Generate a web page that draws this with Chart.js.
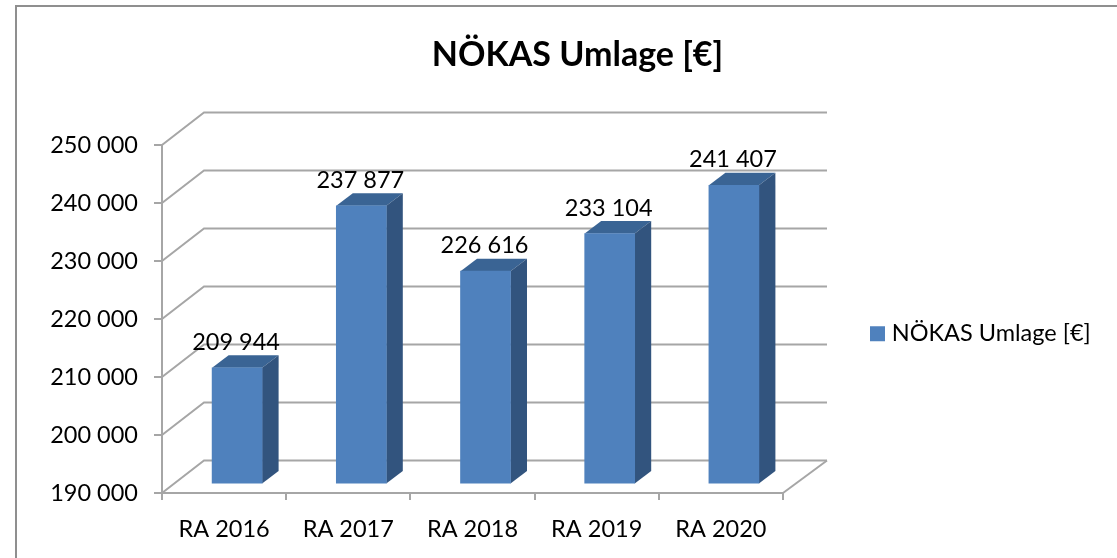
<!DOCTYPE html>
<html>
<head>
<meta charset="utf-8">
<title>NÖKAS Umlage</title>
<script src="https://cdn.jsdelivr.net/npm/chart.js@4/dist/chart.umd.js"></script>
<style>
    html, body { margin: 0; padding: 0; background: #fff; overflow: hidden; }
    #frame { position: absolute; left: 15px; top: 5px; right: 0; bottom: 0; border-left: 2px solid #8f8f8f; border-top: 2px solid #8f8f8f; }
    canvas { position: absolute; left: 0; top: 0; }
</style>
</head>
<body>
<div id="frame"></div>
<canvas id="chart" width="1117" height="558"></canvas>
<script>
const seriesName = 'NÖKAS Umlage [€]';
const categories = ['RA 2016', 'RA 2017', 'RA 2018', 'RA 2019', 'RA 2020'];
const umlage = [209944, 237877, 226616, 233104, 241407];

const fontName = 'Lato, sans-serif';
const gridColor = '#a6a6a6';

// Fake 3D: back wall offset, bar shift into the floor, bar depth
const wallDx = 42, wallRightDx = 44, wallDy = -32.5;
const barDx = 13, barDy = -9.5;
const depthDx = 16.5, depthDy = -12.5;

function formatNumber(v) {
    return String(v).replace(/\B(?=(\d{3})+$)/g, ' ');
}

const fake3d = {
    id: 'fake3d',
    afterLayout(chart) {
        // Legend and title sit where the layout boxes would not put them
        chart.titleBlock.left = 38;
        chart.titleBlock.right = 1117;
        chart.legend.left = 865;
        chart.legend.right = 1117;
        chart.legend.top = 312;
        chart.legend.bottom = 558;
    },
    beforeDatasetsDraw(chart) {
        const ctx = chart.ctx;
        const area = chart.chartArea;
        const y = chart.scales.y;

        // Side wall and back wall grid lines
        ctx.save();
        ctx.strokeStyle = gridColor;
        ctx.lineWidth = 2;
        y.ticks.forEach(t => {
            const py = y.getPixelForValue(t.value);
            ctx.beginPath();
            ctx.moveTo(area.left, py);
            ctx.lineTo(area.left + wallDx, py + wallDy);
            ctx.lineTo(area.right + wallRightDx, py + wallDy);
            ctx.stroke();
        });
        // Right edge of the floor
        ctx.beginPath();
        ctx.moveTo(area.right, area.bottom);
        ctx.lineTo(area.right + wallRightDx, area.bottom + wallDy);
        ctx.stroke();
        ctx.restore();

        // Shift everything the bars draw, restored in afterDatasetsDraw
        ctx.save();
        ctx.translate(barDx, barDy);
        chart.getDatasetMeta(0).data.forEach(bar => {
            const l = bar.x - bar.width / 2;
            const r = bar.x + bar.width / 2;
            ctx.fillStyle = '#3a6494';
            ctx.beginPath();
            ctx.moveTo(l, bar.y);
            ctx.lineTo(l + depthDx, bar.y + depthDy);
            ctx.lineTo(r + depthDx, bar.y + depthDy);
            ctx.lineTo(r, bar.y);
            ctx.closePath();
            ctx.fill();
            ctx.fillStyle = '#32547e';
            ctx.beginPath();
            ctx.moveTo(r, bar.y);
            ctx.lineTo(r + depthDx, bar.y + depthDy);
            ctx.lineTo(r + depthDx, area.bottom + depthDy);
            ctx.lineTo(r, area.bottom);
            ctx.closePath();
            ctx.fill();
        });
    },
    afterDatasetsDraw(chart) {
        const ctx = chart.ctx;
        ctx.restore();

        // Value labels
        ctx.save();
        ctx.font = '23.5px ' + fontName;
        ctx.fillStyle = '#000';
        ctx.textAlign = 'center';
        ctx.textBaseline = 'middle';
        chart.getDatasetMeta(0).data.forEach((bar, i) => {
            ctx.fillText(formatNumber(umlage[i]), bar.x + barDx - 1, bar.y + barDy - 25.5);
        });
        ctx.restore();
    }
};

new Chart(document.getElementById('chart'), {
    type: 'bar',
    data: {
        labels: categories,
        datasets: [{
            label: seriesName,
            data: umlage,
            backgroundColor: '#4f81bd',
            borderWidth: 0,
            barThickness: 50
        }]
    },
    options: {
        responsive: false,
        animation: false,
        layout: { padding: { left: 38, right: 134, top: 0, bottom: 0 } },
        plugins: {
            title: {
                display: true,
                text: seriesName,
                color: '#000',
                font: { family: fontName, size: 34, weight: 'bold' },
                padding: { top: 34.6, bottom: 69.6 }
            },
            legend: {
                position: 'right',
                align: 'start',
                maxWidth: 200,
                labels: {
                    color: '#000',
                    font: { family: fontName, size: 23.5 },
                    boxWidth: 5,
                    boxHeight: 5,
                    padding: 10,
                    // thick stroke gives the square swatch a tighter gap to its text
                    generateLabels: () => [{
                        text: seriesName,
                        fillStyle: '#4f81bd',
                        strokeStyle: '#4f81bd',
                        lineWidth: 10,
                        hidden: false,
                        datasetIndex: 0
                    }]
                }
            },
            tooltip: { enabled: false }
        },
        scales: {
            x: {
                afterFit: s => { s.height = 65; },
                grid: { drawOnChartArea: false, color: gridColor, lineWidth: 2, tickLength: 7 },
                border: { color: gridColor, width: 2 },
                ticks: {
                    color: '#000',
                    font: { family: fontName, size: 23.5 },
                    padding: 15,
                    maxRotation: 0
                }
            },
            y: {
                min: 190000,
                max: 250000,
                afterFit: s => { s.width = 124; },
                grid: { drawOnChartArea: false, color: gridColor, lineWidth: 2, tickLength: 8 },
                border: { color: gridColor, width: 2 },
                ticks: {
                    stepSize: 10000,
                    color: '#000',
                    font: { family: fontName, size: 23.5 },
                    padding: 16,
                    callback: v => formatNumber(v)
                }
            }
        }
    },
    plugins: [fake3d]
});
</script>
</body>
</html>
